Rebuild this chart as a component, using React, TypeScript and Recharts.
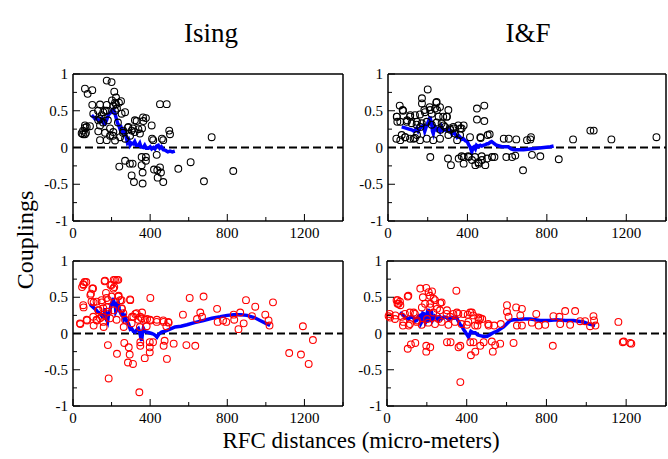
import { ComposedChart, Scatter, Line, XAxis, YAxis, ReferenceLine } from "recharts";

type Pt = [number, number];

// ─── Axes ─────────────────────────────────────────────────────────────────────
const X_TICKS = [0, 200, 400, 600, 800, 1000, 1200, 1400];
const X_LABELS = [0, 400, 800, 1200];
const Y_TICKS = [-1, -0.75, -0.5, -0.25, 0, 0.25, 0.5, 0.75, 1];
const Y_LABELS = [-1, -0.5, 0, 0.5, 1];

const TITLES = ["Ising", "I&F"];
const Y_TITLE = "Couplings";
const X_TITLE = "RFC distances (micro-meters)";

// ─── Ising, top left ──────────────────────────────────────────────────────────
const isingBlack: Pt[] = [
  [62, 0.8], [76, 0.73], [100, 0.78], [175, 0.91], [200, 0.89], [214, 0.76], [223, 0.68],
  [100, 0.58], [140, 0.585], [175, 0.58], [209, 0.57], [223, 0.59], [249, 0.63], [202, 0.64], [218, 0.61], [238, 0.61],
  [270, 0.48], [252, 0.46], [105, 0.46], [157, 0.48], [149, 0.44], [175, 0.5], [218, 0.5], [130, 0.5], [166, 0.5], [228, 0.53],
  [62, 0.3], [71, 0.28], [88, 0.29], [45, 0.195], [62, 0.18], [52, 0.23], [67, 0.2], [52, 0.18], [62, 0.27],
  [131, 0.37], [140, 0.3], [131, 0.22], [140, 0.1], [175, 0.1], [192, 0.16], [209, 0.21], [218, 0.095], [244, 0.14],
  [156, 0.34], [181, 0.37], [233, 0.34], [140, 0.39],
  [261, 0.23], [287, 0.28], [304, 0.23], [320, 0.21], [339, 0.25], [347, 0.19], [330, 0.36], [365, 0.36], [378, 0.4], [408, 0.3], [416, 0.1],
  [166, 0.2], [192, 0.26], [207, 0.16], [259, 0.2], [285, 0.27], [311, 0.26], [358, 0.26], [321, 0.37], [363, 0.41], [270, 0.12], [296, 0.16],
  [451, 0.59], [486, 0.59], [468, 0.1], [461, 0.12], [410, 0.12], [499, 0.23], [503, 0.18], [719, 0.14],
  [434, -0.1], [270, -0.18], [240, -0.26], [295, -0.22], [309, -0.22], [304, -0.38], [316, -0.47], [356, -0.24], [356, -0.13],
  [378, -0.13], [378, -0.18], [361, -0.34], [361, -0.49], [420, -0.3], [437, -0.31], [451, -0.27], [456, -0.34], [439, -0.41],
  [468, -0.47], [546, -0.29], [610, -0.2], [679, -0.46], [831, -0.32],
];
const isingBlackMean: Pt[] = [
  [97, 0.44], [108, 0.41], [114, 0.39], [122, 0.4], [131, 0.37], [140, 0.36], [149, 0.39], [157, 0.33], [166, 0.32], [175, 0.38],
  [183, 0.44], [192, 0.47], [200, 0.5], [205, 0.46], [209, 0.53], [214, 0.49], [218, 0.46], [224, 0.4], [230, 0.34], [237, 0.3],
  [244, 0.25], [250, 0.27], [258, 0.21], [264, 0.23], [270, 0.19], [276, 0.14], [282, 0.07], [289, 0.1], [296, 0.03], [304, 0.06],
  [313, 0.05], [320, 0.08], [328, 0.03], [339, 0.03], [346, 0.06], [352, 0.01], [365, 0.0], [372, 0.03], [380, -0.01], [391, -0.01],
  [400, 0.01], [408, -0.02], [417, 0.0], [425, -0.02], [433, 0.02], [442, 0.03], [450, -0.01], [458, 0.01], [468, -0.03], [480, -0.04],
  [492, -0.06], [503, -0.05], [515, -0.06], [528, -0.05],
];

// ─── I&F, top right ───────────────────────────────────────────────────────────
const ifBlack: Pt[] = [
  [45, 0.42], [59, 0.57], [76, 0.5], [62, 0.35], [42, 0.12], [62, 0.1], [87, 0.14], [112, 0.44], [96, 0.37], [146, 0.17],
  [171, 0.67], [171, 0.6], [200, 0.79], [210, 0.55], [183, 0.51], [243, 0.61], [247, 0.51], [255, 0.42], [280, 0.3], [297, 0.42],
  [264, 0.24], [314, 0.24], [331, 0.26], [364, 0.26], [381, 0.3], [348, 0.1], [146, 0.35], [163, 0.28], [129, 0.12],
  [74, 0.51], [44, 0.42], [47, 0.35], [111, 0.42], [136, 0.44], [161, 0.45], [186, 0.48], [212, 0.51], [220, 0.46], [245, 0.62],
  [237, 0.53], [262, 0.55], [278, 0.42], [295, 0.42], [304, 0.51],
  [94, 0.35], [119, 0.33], [144, 0.31], [170, 0.33], [195, 0.35], [220, 0.31], [245, 0.34], [270, 0.33], [287, 0.28], [312, 0.26],
  [329, 0.28], [354, 0.3], [371, 0.26],
  [69, 0.17], [86, 0.14], [111, 0.12], [136, 0.13], [161, 0.1], [195, 0.12], [228, 0.1], [262, 0.12], [304, 0.17], [337, 0.19], [363, 0.17],
  [448, 0.53], [448, 0.38], [485, 0.57], [485, 0.36], [465, 0.14], [502, 0.17], [512, 0.18], [413, 0.14], [467, 0.13],
  [583, 0.12], [608, 0.12], [646, 0.11], [700, 0.1], [717, 0.11], [720, 0.14], [932, 0.11], [1019, 0.23], [1036, 0.23], [1125, 0.11], [1352, 0.14],
  [213, -0.13], [302, -0.15], [317, -0.24], [356, -0.15], [381, -0.13], [381, -0.22], [406, -0.13], [423, -0.17], [440, -0.24],
  [457, -0.22], [473, -0.17], [490, -0.24], [499, -0.15], [524, -0.13], [536, -0.13], [371, -0.12], [404, -0.12], [438, -0.13],
  [472, -0.12], [455, -0.2], [596, -0.13], [625, -0.13], [641, -0.11], [680, -0.31], [725, -0.1], [767, -0.12], [860, -0.16],
];
const ifBlackMean: Pt[] = [
  [69, 0.28], [82, 0.27], [94, 0.26], [106, 0.25], [119, 0.24], [131, 0.22], [144, 0.26], [152, 0.22], [161, 0.26], [170, 0.29],
  [178, 0.3], [185, 0.22], [191, 0.27], [197, 0.31], [203, 0.35], [207, 0.3], [211, 0.42], [216, 0.36], [220, 0.33], [224, 0.22],
  [228, 0.19], [232, 0.25], [237, 0.28], [245, 0.24], [254, 0.26], [262, 0.22], [270, 0.28], [278, 0.23], [287, 0.24], [297, 0.23],
  [304, 0.26], [312, 0.24], [322, 0.18], [330, 0.21], [337, 0.19], [348, 0.14], [356, 0.16], [363, 0.14], [371, 0.11], [379, 0.12],
  [390, 0.09], [399, 0.08], [406, 0.04], [413, 0.01], [418, -0.03], [422, -0.06], [428, 0.0], [433, 0.01], [440, -0.02], [446, 0.03],
  [455, 0.01], [465, 0.03], [472, 0.02], [480, 0.03], [490, 0.04], [499, 0.05], [505, 0.05], [514, 0.07], [522, 0.08], [532, 0.06],
  [547, 0.03], [560, 0.02], [573, 0.01], [590, 0.01], [606, 0.01], [620, -0.02], [633, -0.03], [655, -0.03], [683, -0.03], [715, -0.02],
  [750, -0.01], [785, 0.0], [818, 0.01], [834, 0.02],
];

// ─── Ising, bottom left ───────────────────────────────────────────────────────
const isingRed: Pt[] = [
  [38, 0.13], [47, 0.64], [55, 0.67], [69, 0.71], [55, 0.36], [73, 0.18], [90, 0.53], [104, 0.62], [107, 0.43], [107, 0.11],
  [124, 0.18], [133, 0.32], [150, 0.23], [150, 0.43], [164, 0.72], [171, 0.56], [176, 0.36], [159, 0.09], [181, 0.46], [194, 0.67],
  [211, 0.74], [228, 0.74], [214, 0.64], [237, 0.52], [245, 0.46], [254, 0.34], [263, 0.09], [297, 0.46], [306, 0.23], [323, 0.27],
  [349, 0.23], [358, 0.29], [384, 0.2], [401, 0.49], [401, 0.18], [435, 0.19], [470, 0.16], [484, 0.1], [496, 0.15],
  [53, 0.68], [60, 0.71], [100, 0.62], [93, 0.55], [166, 0.73], [200, 0.67], [218, 0.74], [235, 0.74], [209, 0.62],
  [53, 0.39], [96, 0.44], [122, 0.44], [148, 0.46], [174, 0.49], [200, 0.51], [235, 0.51], [252, 0.46], [296, 0.47],
  [131, 0.32], [157, 0.35], [183, 0.3], [209, 0.32], [252, 0.35], [261, 0.28],
  [36, 0.14], [71, 0.19], [105, 0.23], [122, 0.19], [140, 0.21], [157, 0.16], [192, 0.21], [226, 0.19], [270, 0.19], [313, 0.23],
  [330, 0.28], [339, 0.19], [356, 0.21], [373, 0.19], [399, 0.19], [434, 0.16], [468, 0.18], [494, 0.16], [304, 0.14], [347, 0.09], [382, 0.1],
  [181, -0.16], [185, -0.62], [228, -0.28], [266, -0.13], [289, -0.19], [294, -0.29], [285, -0.4], [311, -0.42], [344, -0.81],
  [349, -0.17], [349, -0.12], [372, -0.34], [398, -0.12], [398, -0.19], [398, -0.26], [415, -0.12], [475, -0.1], [470, -0.17],
  [487, -0.35], [522, -0.14], [588, -0.16], [634, -0.17],
  [570, 0.26], [605, 0.49], [643, 0.2], [660, 0.29], [669, 0.23], [677, 0.51], [747, 0.34], [750, 0.16], [778, 0.18], [795, 0.16],
  [833, 0.26], [836, 0.19], [858, 0.06], [867, 0.29], [885, 0.14], [897, 0.46], [928, 0.24], [945, 0.37], [997, 0.26], [1014, 0.18],
  [1019, 0.11], [1037, 0.43], [1121, -0.27], [1182, -0.29], [1192, 0.1], [1222, -0.42], [1244, -0.09],
];
const isingRedMean: Pt[] = [
  [88, 0.4], [101, 0.37], [114, 0.34], [127, 0.3], [140, 0.28], [150, 0.24], [157, 0.26], [162, 0.22], [166, 0.35], [172, 0.2],
  [179, 0.16], [185, 0.28], [192, 0.32], [198, 0.4], [204, 0.44], [209, 0.49], [214, 0.38], [218, 0.44], [222, 0.3], [226, 0.32],
  [231, 0.4], [235, 0.42], [240, 0.34], [244, 0.3], [252, 0.26], [258, 0.28], [264, 0.2], [270, 0.23], [280, 0.16], [287, 0.14],
  [297, 0.06], [304, 0.07], [313, 0.03], [322, 0.02], [330, 0.05], [339, 0.07], [346, 0.02], [352, -0.06], [356, -0.1], [360, 0.0],
  [365, 0.07], [372, 0.03], [382, 0.02], [395, 0.01], [408, 0.0], [418, -0.01], [428, -0.03], [435, -0.05], [445, -0.01], [459, 0.02],
  [475, 0.03], [494, 0.05], [512, 0.07], [529, 0.09], [560, 0.1], [591, 0.12], [630, 0.15], [677, 0.18], [720, 0.21], [764, 0.23],
  [800, 0.25], [833, 0.26], [870, 0.26], [902, 0.25], [940, 0.22], [970, 0.18], [1000, 0.14], [1022, 0.11],
];

// ─── I&F, bottom right ────────────────────────────────────────────────────────
const ifRed: Pt[] = [
  [8, 0.24], [13, 0.27], [42, 0.25], [54, 0.46], [58, 0.41], [67, 0.39], [75, 0.23], [80, 0.11], [104, 0.51], [109, 0.11],
  [104, -0.21], [120, -0.15], [142, -0.13], [134, 0.29], [150, 0.18], [167, 0.62], [180, 0.5], [175, 0.36], [197, 0.63], [209, 0.57],
  [226, 0.58], [234, 0.48], [217, 0.41], [197, -0.17], [197, -0.25], [217, -0.19], [201, 0.2], [251, 0.34], [267, 0.42], [259, 0.2],
  [301, 0.32], [317, 0.23], [301, -0.12], [319, -0.12], [348, 0.59], [351, 0.29], [359, -0.19], [368, -0.17], [368, -0.67],
  [48, 0.46], [53, 0.41], [65, 0.44], [107, 0.52], [216, 0.52], [191, 0.41], [216, 0.36], [241, 0.46], [274, 0.43], [232, 0.29],
  [266, 0.32], [90, 0.27], [115, 0.29], [140, 0.27], [299, 0.27], [333, 0.27], [358, 0.27], [383, 0.27], [417, 0.29], [433, 0.25],
  [458, 0.22], [478, 0.2], [508, 0.13],
  [15, 0.22], [40, 0.2], [82, 0.16], [115, 0.13], [149, 0.16], [174, 0.12], [207, 0.15], [241, 0.13], [274, 0.16], [308, 0.12],
  [341, 0.16], [374, 0.13], [408, 0.16], [442, 0.11],
  [401, 0.12], [405, 0.26], [421, -0.3], [426, 0.29], [418, -0.12], [434, -0.12], [443, -0.25], [454, 0.11], [460, 0.18], [468, 0.21],
  [468, -0.17], [485, -0.12], [510, 0.11], [526, -0.11], [531, -0.25], [538, 0.11], [543, -0.16], [568, -0.14], [571, 0.13], [602, 0.39],
  [602, 0.3], [610, 0.23], [635, -0.13], [648, 0.36], [652, 0.11], [669, 0.25], [677, 0.34], [677, 0.11], [727, 0.15], [749, 0.27],
  [761, 0.11], [794, 0.12], [832, -0.17], [835, 0.24], [865, 0.23], [869, 0.13], [894, 0.31], [919, 0.12], [944, 0.31], [969, 0.17],
  [994, 0.17], [1019, 0.1], [1036, 0.24], [1039, 0.18], [1046, 0.11], [1161, 0.16], [1183, -0.12], [1188, -0.11], [1220, -0.13], [1226, -0.14],
];
const ifRedMean: Pt[] = [
  [65, 0.29], [74, 0.27], [82, 0.25], [95, 0.22], [107, 0.2], [120, 0.23], [132, 0.22], [140, 0.17], [149, 0.18], [158, 0.24],
  [166, 0.25], [170, 0.14], [174, 0.16], [180, 0.28], [187, 0.27], [193, 0.15], [199, 0.18], [203, 0.3], [207, 0.34], [212, 0.16],
  [216, 0.22], [220, 0.32], [224, 0.29], [228, 0.18], [232, 0.2], [240, 0.24], [249, 0.22], [258, 0.18], [266, 0.23], [274, 0.2],
  [286, 0.23], [299, 0.22], [310, 0.19], [324, 0.22], [336, 0.21], [349, 0.22], [358, 0.17], [366, 0.13], [376, 0.1], [383, 0.06],
  [393, 0.02], [402, -0.02], [409, -0.05], [415, -0.01], [421, 0.03], [432, 0.01], [443, 0.01], [455, -0.02], [468, -0.03], [485, -0.04],
  [501, -0.04], [515, -0.02], [526, 0.0], [540, 0.02], [551, 0.03], [568, 0.06], [585, 0.09], [600, 0.13], [618, 0.18], [635, 0.19],
  [652, 0.19], [685, 0.2], [719, 0.2], [745, 0.19], [769, 0.18], [810, 0.18], [852, 0.19], [895, 0.18], [936, 0.18], [960, 0.17],
  [986, 0.16], [1015, 0.13], [1044, 0.11],
];

const FONT = "'Liberation Serif', 'Times New Roman', serif";
const BLUE = "#0000ff";

const toRows = (pts: Pt[]) => pts.map(([x, y]) => ({ x, y }));

// ─── Ticks (inward, labels outside) ───────────────────────────────────────────
const tickLine = (major: boolean) => (major ? 7 : 4);

const bottomTick = (p: any) => {
  const major = X_LABELS.includes(p.payload.value);
  return (
    <g>
      <line x1={p.x} x2={p.x} y1={p.y} y2={p.y - tickLine(major)} stroke="#000" />
      {major && (
        <text x={p.x} y={p.y + 17} textAnchor="middle" fontSize={15} fontFamily={FONT} fill="#000">
          {p.payload.value}
        </text>
      )}
    </g>
  );
};
const topTick = (p: any) => (
  <line x1={p.x} x2={p.x} y1={p.y} y2={p.y + tickLine(X_LABELS.includes(p.payload.value))} stroke="#000" />
);
const leftTick = (p: any) => {
  const major = Y_LABELS.includes(p.payload.value);
  return (
    <g>
      <line x1={p.x} x2={p.x + tickLine(major)} y1={p.y} y2={p.y} stroke="#000" />
      {major && (
        <text x={p.x - 5} y={p.y + 5} textAnchor="end" fontSize={15} fontFamily={FONT} fill="#000">
          {String(p.payload.value)}
        </text>
      )}
    </g>
  );
};
const rightTick = (p: any) => (
  <line x1={p.x} x2={p.x - tickLine(Y_LABELS.includes(p.payload.value))} y1={p.y} y2={p.y} stroke="#000" />
);

interface PanelProps {
  left: number;
  top: number;
  width: number;
  height: number;
  leftW: number;
  rightW: number;
  topH: number;
  bottomH: number;
  points: Pt[];
  mean: Pt[];
  color: string;
}

function Panel({ left, top, width, height, leftW, rightW, topH, bottomH, points, mean, color }: PanelProps) {
  const axisLine = { stroke: "#000", strokeWidth: 1.5 };
  return (
    <div style={{ position: "absolute", left, top }}>
      <ComposedChart width={width} height={height} margin={{ top: 0, right: 0, bottom: 0, left: 0 }}>
        <XAxis
          xAxisId="b"
          dataKey="x"
          type="number"
          domain={[0, 1400]}
          ticks={X_TICKS}
          interval={0}
          height={bottomH}
          tickSize={0}
          tickMargin={0}
          axisLine={axisLine}
          tickLine={false}
          tick={bottomTick}
        />
        <XAxis
          xAxisId="t"
          orientation="top"
          dataKey="x"
          type="number"
          domain={[0, 1400]}
          ticks={X_TICKS}
          interval={0}
          height={topH}
          tickSize={0}
          tickMargin={0}
          axisLine={axisLine}
          tickLine={false}
          tick={topTick}
        />
        <YAxis
          yAxisId="l"
          dataKey="y"
          type="number"
          domain={[-1, 1]}
          ticks={Y_TICKS}
          interval={0}
          width={leftW}
          tickSize={0}
          tickMargin={0}
          axisLine={axisLine}
          tickLine={false}
          tick={leftTick}
        />
        <YAxis
          yAxisId="r"
          orientation="right"
          dataKey="y"
          type="number"
          domain={[-1, 1]}
          ticks={Y_TICKS}
          interval={0}
          width={rightW}
          tickSize={0}
          tickMargin={0}
          axisLine={axisLine}
          tickLine={false}
          tick={rightTick}
        />
        <Scatter
          xAxisId="b"
          yAxisId="l"
          data={toRows(points)}
          dataKey="y"
          isAnimationActive={false}
          shape={(s: any) => (
            <circle cx={s.cx} cy={s.cy} r={3.4} fill="none" stroke={color} strokeWidth={1.1} />
          )}
        />
        <ReferenceLine
          xAxisId="b"
          yAxisId="l"
          y={0}
          stroke="#000"
          strokeWidth={2}
          strokeDasharray="8 4"
        />
        <Line
          xAxisId="b"
          yAxisId="l"
          data={toRows(mean)}
          dataKey="y"
          type="linear"
          stroke={BLUE}
          strokeWidth={3.5}
          dot={false}
          activeDot={false}
          isAnimationActive={false}
        />
      </ComposedChart>
    </div>
  );
}

export default function App() {
  return (
    <div style={{ position: "absolute", left: 0, top: 0, width: 668, height: 459, background: "#fff" }}>
      <svg width={668} height={459} style={{ position: "absolute", left: 0, top: 0 }}>
        <text x={211} y={42} textAnchor="middle" fontSize={27} fontFamily={FONT} fill="#000">
          {TITLES[0]}
        </text>
        <text x={528} y={42} textAnchor="middle" fontSize={27} fontFamily={FONT} fill="#000">
          {TITLES[1]}
        </text>
        <text
          x={33}
          y={240}
          textAnchor="middle"
          fontSize={24}
          fontFamily={FONT}
          fill="#000"
          transform="rotate(-90 33 240)"
        >
          {Y_TITLE}
        </text>
        <text x={361} y={448} textAnchor="middle" fontSize={23} fontFamily={FONT} fill="#000">
          {X_TITLE}
        </text>
      </svg>
      <Panel left={0} top={60} width={350} height={185} leftW={73} rightW={7} topH={14} bottomH={24} points={isingBlack} mean={isingBlackMean} color="#000" />
      <Panel left={350} top={60} width={318} height={185} leftW={38} rightW={2} topH={14} bottomH={24} points={ifBlack} mean={ifBlackMean} color="#000" />
      <Panel left={0} top={245} width={350} height={185} leftW={73} rightW={7} topH={16} bottomH={24} points={isingRed} mean={isingRedMean} color="#ff0000" />
      <Panel left={350} top={245} width={318} height={185} leftW={37} rightW={2} topH={16} bottomH={24} points={ifRed} mean={ifRedMean} color="#ff0000" />
    </div>
  );
}
